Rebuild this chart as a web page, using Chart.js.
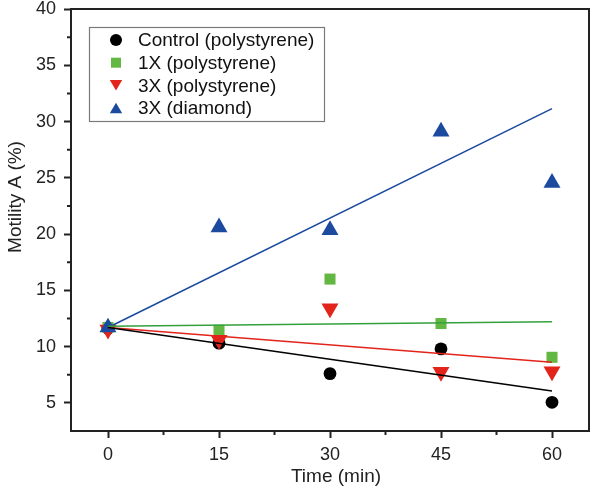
<!DOCTYPE html>
<html>
<head>
<meta charset="utf-8">
<script src="https://cdn.jsdelivr.net/npm/chart.js@4"></script>
<style>
  body { margin: 0; background: #fff; }
</style>
</head>
<body>
<canvas id="myChart" width="595" height="493"></canvas>
<script>
// values
const times = [0, 15, 30, 45, 60];
const control = [11.6, 10.3, 7.6, 9.8, 5.05];
const oneX = [11.7, 11.45, 16.0, 12.05, 9.05];
const threeX = [11.5, 10.6, 13.4, 7.75, 7.8];
const diamond = [11.7, 20.6, 20.35, 29.1, 24.55];

const seriesNames = ["Control (polystyrene)", "1X (polystyrene)", "3X (polystyrene)", "3X (diamond)"];
const seriesValues = [control, oneX, threeX, diamond];

// linear fit lines, value at t=0 and t=60
const fitTimes = [0, 60];
const fitStart = [11.7, 11.8, 11.7, 11.7];
const fitEnd = [6.05, 12.2, 8.6, 31.15];

const xTicks = [0, 15, 30, 45, 60];
const xMinor = [7.5, 22.5, 37.5, 52.5];
const yTicks = [5, 10, 15, 20, 25, 30, 35, 40];
const yMinor = [7.5, 12.5, 17.5, 22.5, 27.5, 32.5, 37.5];

const colors = ["#000000", "#62b843", "#e3241b", "#1b4a9e"];
const lineColors = ["#000000", "#34a03c", "#e3241b", "#1b4a9e"];
const shapes = ["circle", "rect", "triangle", "triangle"];
const rotations = [0, 0, 180, 0];
const radii = [6.4, 7.8, 9.8, 9.8];

const FONT = "'Liberation Sans', Arial, sans-serif";
const INK = "#222";

function buildDatasets() {
  const sets = [];
  seriesValues.forEach((vals, i) => {
    sets.push({
      type: "scatter",
      label: seriesNames[i],
      data: times.map((t, j) => ({ x: t, y: vals[j] })),
      pointStyle: shapes[i],
      rotation: rotations[i],
      pointRadius: radii[i],
      pointHoverRadius: radii[i],
      backgroundColor: colors[i],
      borderColor: colors[i],
      borderWidth: 0,
      order: 4 - i,
    });
  });
  seriesValues.forEach((vals, i) => {
    sets.push({
      type: "line",
      label: "fit " + i,
      data: fitTimes.map((t, j) => ({ x: t, y: j === 0 ? fitStart[i] : fitEnd[i] })),
      borderColor: lineColors[i],
      borderWidth: 1.5,
      pointRadius: 0,
      fill: false,
      order: 0,
    });
  });
  return sets;
}

function legendMarker(ctx, i, x, y) {
  ctx.fillStyle = colors[i];
  ctx.beginPath();
  if (i === 0) {
    ctx.arc(x, y, 6, 0, Math.PI * 2);
  } else if (i === 1) {
    ctx.rect(x - 5, y - 5, 10, 10);
  } else if (i === 2) {
    ctx.moveTo(x - 6.2, y - 5.3);
    ctx.lineTo(x + 6.2, y - 5.3);
    ctx.lineTo(x, y + 5.3);
  } else {
    ctx.moveTo(x - 6.2, y + 5.3);
    ctx.lineTo(x + 6.2, y + 5.3);
    ctx.lineTo(x, y - 5.3);
  }
  ctx.closePath();
  ctx.fill();
}

const extras = {
  id: "extras",
  afterDraw(chart) {
    const ctx = chart.ctx;
    const a = chart.chartArea;
    const xs = chart.scales.x;
    const ys = chart.scales.y;
    ctx.save();

    // frame on top and right
    ctx.strokeStyle = INK;
    ctx.lineWidth = 2;
    ctx.beginPath();
    ctx.moveTo(a.left, a.top);
    ctx.lineTo(a.right, a.top);
    ctx.lineTo(a.right, a.bottom);
    ctx.stroke();

    // minor ticks
    ctx.beginPath();
    xMinor.forEach((v) => {
      const px = xs.getPixelForValue(v);
      ctx.moveTo(px, a.bottom);
      ctx.lineTo(px, a.bottom + 4);
    });
    yMinor.forEach((v) => {
      const py = ys.getPixelForValue(v);
      ctx.moveTo(a.left, py);
      ctx.lineTo(a.left - 4, py);
    });
    ctx.stroke();

    // axis titles
    ctx.fillStyle = INK;
    ctx.font = "19px " + FONT;
    ctx.textAlign = "center";
    ctx.textBaseline = "middle";
    ctx.fillText("Time (min)", 336, 477);
    ctx.save();
    ctx.translate(16, 197);
    ctx.rotate(-Math.PI / 2);
    ctx.fillText("Motility A (%)", 0, 0);
    ctx.restore();

    // legend box
    ctx.fillStyle = "#fff";
    ctx.fillRect(89, 27, 235, 94);
    ctx.strokeStyle = "#7a7a7a";
    ctx.lineWidth = 1.2;
    ctx.strokeRect(89.5, 27.5, 235, 94);
    const rows = [40, 62.7, 85.3, 108];
    ctx.textAlign = "left";
    seriesNames.forEach((name, i) => {
      legendMarker(ctx, i, 116, rows[i]);
      ctx.fillStyle = "#111";
      ctx.fillText(name, 138, rows[i] + 1);
    });
    ctx.restore();
  },
};

new Chart(document.getElementById("myChart"), {
  type: "scatter",
  data: { datasets: buildDatasets() },
  options: {
    responsive: false,
    animation: false,
    layout: { autoPadding: false, padding: { top: 9, right: 6, left: 0, bottom: 0 } },
    plugins: {
      legend: { display: false },
      tooltip: { enabled: false },
    },
    scales: {
      x: {
        type: "linear",
        min: -5,
        max: 65,
        afterBuildTicks: (s) => { s.ticks = xTicks.map((v) => ({ value: v })); },
        afterFit: (s) => { s.height = 62; s.paddingLeft = 0; s.paddingRight = 0; },
        grid: { drawOnChartArea: false, tickLength: 7, tickWidth: 2, tickColor: INK },
        border: { color: INK, width: 2 },
        ticks: { color: INK, font: { family: FONT, size: 18 }, padding: 6 },
      },
      y: {
        type: "linear",
        min: 2.5,
        max: 40,
        afterBuildTicks: (s) => { s.ticks = yTicks.map((v) => ({ value: v })); },
        afterFit: (s) => { s.width = 71; s.paddingTop = 0; s.paddingBottom = 0; },
        grid: { drawOnChartArea: false, tickLength: 7, tickWidth: 2, tickColor: INK },
        border: { color: INK, width: 2 },
        ticks: { color: INK, font: { family: FONT, size: 18 }, padding: 8 },
      },
    },
  },
  plugins: [extras],
});
</script>
</body>
</html>
